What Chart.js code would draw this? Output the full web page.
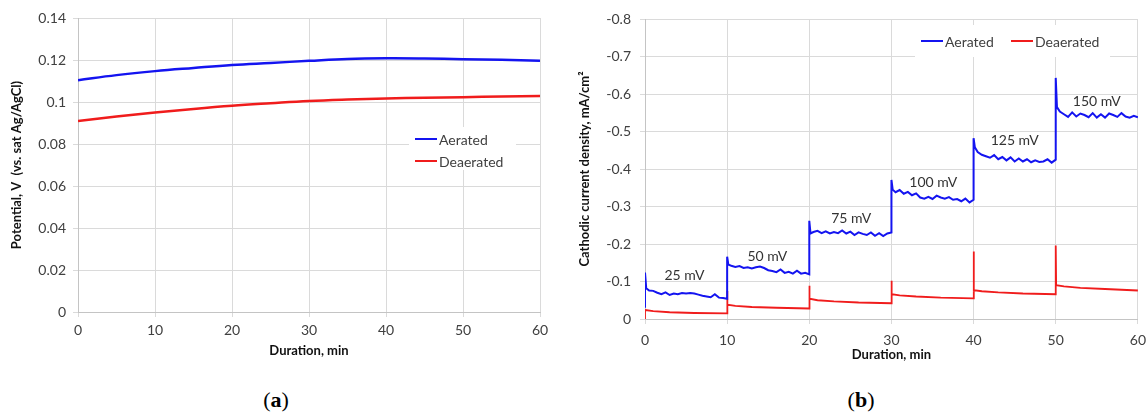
<!DOCTYPE html>
<html>
<head>
<meta charset="utf-8">
<script src="https://cdn.jsdelivr.net/npm/chart.js@4.4.1/dist/chart.umd.min.js"></script>
<style>
html, body { margin: 0; background: #fff; width: 1146px; height: 419px; overflow: hidden; }
body { position: relative; }
#chartA { position: absolute; left: 0; top: 0; }
#chartB { position: absolute; left: 565px; top: 0; }
.panel { position: absolute; top: 387px; width: 60px; text-align: center; font-family: "Liberation Serif", serif; font-size: 22px; color: #000; }
</style>
</head>
<body>
<canvas id="chartA" width="565" height="370"></canvas>
<canvas id="chartB" width="589" height="370"></canvas>
<div class="panel" style="left:246px">(<b>a</b>)</div>
<div class="panel" style="left:831px">(<b>b</b>)</div>
<script>
var seriesLabels = ['Aerated', 'Deaerated'];
var seriesColors = ['#1414f0', '#f01c1c'];
var durationTicks = [0, 10, 20, 30, 40, 50, 60];

// (a) potential vs time
var potentialTime = [0, 5, 10, 15, 20, 25, 30, 35, 40, 45, 50, 55, 60];
var potentialAerated = [0.1104, 0.1128, 0.1147, 0.1162, 0.1176, 0.1186, 0.1196, 0.1205, 0.1208, 0.1207, 0.1204, 0.1201, 0.1196];
var potentialDeaerated = [0.0910, 0.0931, 0.0950, 0.0967, 0.0982, 0.0994, 0.1005, 0.1012, 0.1017, 0.1020, 0.1023, 0.1026, 0.1028];
var potentialTicks = [0, 0.02, 0.04, 0.06, 0.08, 0.1, 0.12, 0.14];
var potentialTickLabels = ['0', '0.02', '0.04', '0.06', '0.08', '0.1', '0.12', '0.14'];

// (b) cathodic current density, stepped polarisation
var aeratedTime = [
    0, 0, 0.15, 0.5, 1, 1.5, 2, 2.5, 3, 3.5, 4, 4.5, 5, 5.5, 6, 6.5, 7, 7.5, 8, 8.5, 9, 9.5, 10,
    10, 10.15, 10.5, 11, 11.5, 12, 12.5, 13, 13.5, 14, 14.5, 15, 15.5, 16, 16.5, 17, 17.5, 18, 18.5, 19, 19.5, 20,
    20, 20.15, 20.5, 21, 21.5, 22, 22.5, 23, 23.5, 24, 24.5, 25, 25.5, 26, 26.5, 27, 27.5, 28, 28.5, 29, 29.5, 30,
    30, 30.15, 30.5, 31, 31.5, 32, 32.5, 33, 33.5, 34, 34.5, 35, 35.5, 36, 36.5, 37, 37.5, 38, 38.5, 39, 39.5, 40,
    40, 40.15, 40.5, 41, 41.5, 42, 42.5, 43, 43.5, 44, 44.5, 45, 45.5, 46, 46.5, 47, 47.5, 48, 48.5, 49, 49.5, 50,
    50, 50.15, 50.5, 51, 51.5, 52, 52.5, 53, 53.5, 54, 54.5, 55, 55.5, 56, 56.5, 57, 57.5, 58, 58.5, 59, 59.5, 60
];
var aeratedCurrent = [
    -0.03, -0.124, -0.082, -0.076, -0.075, -0.07, -0.066, -0.071, -0.064, -0.068, -0.066, -0.069, -0.068, -0.069, -0.068, -0.065, -0.062, -0.06, -0.058, -0.066, -0.057, -0.056, -0.054,
    -0.166, -0.145, -0.142, -0.139, -0.141, -0.136, -0.138, -0.135, -0.138, -0.14, -0.136, -0.13, -0.128, -0.125, -0.132, -0.123, -0.126, -0.121, -0.129, -0.121, -0.123, -0.119,
    -0.262, -0.228, -0.232, -0.235, -0.229, -0.234, -0.228, -0.232, -0.229, -0.236, -0.228, -0.233, -0.224, -0.231, -0.227, -0.224, -0.231, -0.222, -0.229, -0.221, -0.228, -0.231,
    -0.371, -0.345, -0.338, -0.344, -0.334, -0.339, -0.33, -0.335, -0.324, -0.321, -0.326, -0.32, -0.329, -0.324, -0.321, -0.325, -0.318, -0.32, -0.314, -0.321, -0.311, -0.318,
    -0.482, -0.458, -0.445, -0.438, -0.434, -0.43, -0.437, -0.426, -0.432, -0.423, -0.431, -0.42, -0.428, -0.42, -0.426, -0.418, -0.423, -0.419, -0.42, -0.426, -0.417, -0.425,
    -0.643, -0.565, -0.553, -0.546, -0.539, -0.551, -0.54, -0.548, -0.544, -0.538, -0.549, -0.537, -0.546, -0.537, -0.548, -0.544, -0.539, -0.549, -0.54, -0.537, -0.542, -0.538
];
var deaeratedTime = [
    0, 0, 1, 3, 6, 10,
    10, 10.05, 11, 13, 16, 20,
    20, 20.05, 21, 23, 26, 30,
    30, 30.05, 31, 33, 36, 40,
    40, 40.05, 41, 43, 46, 50,
    50, 50.05, 51, 53, 56, 60
];
var deaeratedCurrent = [
    0, -0.024, -0.021, -0.018, -0.016, -0.015,
    -0.075, -0.038, -0.035, -0.032, -0.03, -0.028,
    -0.089, -0.054, -0.05, -0.047, -0.044, -0.042,
    -0.102, -0.066, -0.063, -0.06, -0.057, -0.055,
    -0.18, -0.077, -0.074, -0.071, -0.068, -0.066,
    -0.196, -0.09, -0.087, -0.083, -0.08, -0.076
];
var currentTicks = [-0.8, -0.7, -0.6, -0.5, -0.4, -0.3, -0.2, -0.1, 0];
var currentTickLabels = ['-0.8', '-0.7', '-0.6', '-0.5', '-0.4', '-0.3', '-0.2', '-0.1', '0'];
var stepLabels = ['25 mV', '50 mV', '75 mV', '100 mV', '125 mV', '150 mV'];
var stepLabelTime = [4.8, 14.9, 25.1, 35.1, 45.0, 55.0];
var stepLabelCurrent = [-0.117, -0.168, -0.267, -0.364, -0.475, -0.579];

function pairs(xs, ys) {
    return xs.map(function (x, i) { return { x: x, y: ys[i] }; });
}

Chart.defaults.font.family = 'Lato, sans-serif';
Chart.defaults.color = '#404040';

var gridStyle = { color: '#dadada', lineWidth: 1, tickLength: 5 };
var borderStyle = { color: '#c4c4c4' };

var boxLegend = {
    id: 'boxLegend',
    beforeDatasetsDraw: function (chart, args, opts) {
        var ctx = chart.ctx, area = chart.chartArea;
        var x0 = area.left + opts.left, y0 = area.top + opts.top;
        ctx.save();
        ctx.fillStyle = '#fff';
        ctx.fillRect(x0, y0, opts.width, opts.height);
        ctx.font = '14px Lato';
        ctx.textBaseline = 'middle';
        chart.data.datasets.forEach(function (ds, i) {
            var lx = x0 + opts.items[i][0], ly = y0 + opts.items[i][1];
            ctx.strokeStyle = ds.borderColor;
            ctx.lineWidth = 2;
            ctx.beginPath();
            ctx.moveTo(lx, ly);
            ctx.lineTo(lx + 22, ly);
            ctx.stroke();
            ctx.fillStyle = '#404040';
            ctx.fillText(ds.label, lx + 24, ly + 1);
        });
        ctx.restore();
    }
};

var stepLabelPlugin = {
    id: 'stepLabels',
    afterDatasetsDraw: function (chart) {
        var ctx = chart.ctx, xs = chart.scales.x, ys = chart.scales.y;
        ctx.save();
        ctx.font = '14px Lato';
        ctx.fillStyle = '#333';
        ctx.textAlign = 'center';
        ctx.textBaseline = 'middle';
        stepLabels.forEach(function (t, i) {
            ctx.fillText(t, xs.getPixelForValue(stepLabelTime[i]), ys.getPixelForValue(stepLabelCurrent[i]));
        });
        ctx.restore();
    }
};

new Chart(document.getElementById('chartA'), {
    type: 'line',
    data: {
        datasets: [{
            label: seriesLabels[0],
            data: pairs(potentialTime, potentialAerated),
            borderColor: seriesColors[0],
            borderWidth: 2.5,
            pointRadius: 0,
            tension: 0.4
        }, {
            label: seriesLabels[1],
            data: pairs(potentialTime, potentialDeaerated),
            borderColor: seriesColors[1],
            borderWidth: 2.5,
            pointRadius: 0,
            tension: 0.4
        }]
    },
    options: {
        responsive: false,
        animation: false,
        layout: { padding: { top: 18, right: 25, bottom: 0, left: 0 } },
        plugins: {
            legend: { display: false },
            tooltip: { enabled: false },
            boxLegend: {
                left: 331, top: 109, width: 107, height: 43,
                items: [[6, 12], [6, 34]]
            }
        },
        scales: {
            x: {
                type: 'linear',
                min: 0,
                max: 60,
                afterBuildTicks: function (scale) { scale.ticks = durationTicks.map(function (v) { return { value: v }; }); },
                afterFit: function (scale) { scale.height = 58; },
                grid: gridStyle,
                border: borderStyle,
                ticks: { padding: 5, font: { size: 14 }, maxRotation: 0 },
                title: { display: true, text: 'Duration, min', color: '#111', font: { size: 13, weight: 'bold' }, padding: { top: 0, bottom: 11 } }
            },
            y: {
                min: 0,
                max: 0.14,
                afterBuildTicks: function (scale) { scale.ticks = potentialTicks.map(function (v) { return { value: v }; }); },
                afterFit: function (scale) { scale.width = 78; },
                grid: gridStyle,
                border: borderStyle,
                ticks: {
                    padding: 7,
                    font: { size: 14 },
                    callback: function (value, index) { return potentialTickLabels[index]; }
                },
                title: { display: true, text: 'Potential, V  (vs. sat Ag/AgCl)', color: '#111', font: { size: 13, weight: 'bold' }, padding: { top: 9, bottom: 0 } }
            }
        }
    },
    plugins: [boxLegend]
});

new Chart(document.getElementById('chartB'), {
    type: 'line',
    data: {
        datasets: [{
            label: seriesLabels[0],
            data: pairs(aeratedTime, aeratedCurrent),
            borderColor: seriesColors[0],
            borderWidth: 2,
            pointRadius: 0,
            tension: 0
        }, {
            label: seriesLabels[1],
            data: pairs(deaeratedTime, deaeratedCurrent),
            borderColor: seriesColors[1],
            borderWidth: 1.8,
            pointRadius: 0,
            tension: 0
        }]
    },
    options: {
        responsive: false,
        animation: false,
        layout: { padding: { top: 19, right: 2, bottom: 0, left: 0 } },
        plugins: {
            legend: { display: false },
            tooltip: { enabled: false },
            boxLegend: {
                left: 270, top: 6, width: 195, height: 32,
                items: [[6, 16], [96, 16]]
            }
        },
        scales: {
            x: {
                type: 'linear',
                min: 0,
                max: 60,
                afterBuildTicks: function (scale) { scale.ticks = durationTicks.map(function (v) { return { value: v }; }); },
                afterFit: function (scale) { scale.height = 51; },
                grid: gridStyle,
                border: borderStyle,
                ticks: { padding: 8, font: { size: 14 }, maxRotation: 0 },
                title: { display: true, text: 'Duration, min', color: '#111', font: { size: 13, weight: 'bold' }, padding: { top: 0, bottom: 7 } }
            },
            y: {
                min: -0.8,
                max: 0,
                reverse: true,
                afterBuildTicks: function (scale) { scale.ticks = currentTicks.map(function (v) { return { value: v }; }); },
                afterFit: function (scale) { scale.width = 80; },
                grid: gridStyle,
                border: borderStyle,
                ticks: {
                    padding: 9,
                    font: { size: 14 },
                    callback: function (value, index) { return currentTickLabels[index]; }
                },
                title: { display: true, text: 'Cathodic current density, mA/cm²', color: '#111', font: { size: 13, weight: 'bold' }, padding: { top: 12, bottom: 0 } }
            }
        }
    },
    plugins: [boxLegend, stepLabelPlugin]
});
</script>
</body>
</html>
